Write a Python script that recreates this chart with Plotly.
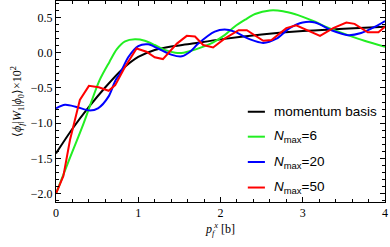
import plotly.graph_objects as go

# momentum basis
x_mom = [0, 0.2, 0.4, 0.6, 0.8, 1.0, 1.2, 1.4, 1.6, 2.0, 2.5, 3.0, 3.5, 4.0]
y_mom = [-1.43, -1.08, -0.77, -0.49, -0.24, -0.06, 0.04, 0.09, 0.12, 0.19, 0.26, 0.31, 0.34, 0.37]

# Nmax = 6
x_n6 = [0, 0.15, 0.33, 0.53, 0.65, 0.74, 0.84, 0.96, 1.08, 1.2, 1.32, 1.45, 1.55, 1.65, 1.8, 1.9,
        2.05, 2.17, 2.3, 2.42, 2.6, 2.76, 2.9, 3.0, 3.15, 3.3, 3.55, 3.75, 4.0]
y_n6 = [-2.0, -1.55, -1.02, -0.39, -0.13, 0.05, 0.16, 0.19, 0.17, 0.11, 0.04, 0.0, 0.0, 0.03, 0.09, 0.14,
        0.25, 0.37, 0.47, 0.55, 0.60, 0.59, 0.55, 0.51, 0.44, 0.36, 0.25, 0.17, 0.085]

# Nmax = 20
x_n20 = [0, 0.11, 0.25, 0.41, 0.51, 0.64, 0.72, 0.78, 0.88, 1.0, 1.12, 1.24, 1.41, 1.53, 1.63, 1.73,
         1.93, 2.05, 2.17, 2.36, 2.52, 2.68, 2.84, 3.0, 3.15, 3.35, 3.55, 3.71, 3.88, 4.0]
y_n20 = [-0.79, -0.74, -0.77, -0.82, -0.79, -0.62, -0.40, -0.29, -0.06, 0.095, 0.12, 0.06, -0.03, -0.05, 0.015, 0.13,
         0.30, 0.33, 0.30, 0.19, 0.14, 0.20, 0.35, 0.43, 0.43, 0.32, 0.25, 0.28, 0.37, 0.45]

# Nmax = 50
x_n50 = [0, 0.09, 0.17, 0.29, 0.40, 0.52, 0.64, 0.72, 0.84, 0.98, 1.10, 1.20, 1.30, 1.47, 1.59, 1.69, 1.79,
         1.91, 2.05, 2.22, 2.32, 2.42, 2.52, 2.62, 2.80, 2.92, 3.07, 3.21, 3.37, 3.53, 3.63, 3.79, 3.92, 4.0]
y_n50 = [-2.0, -1.75, -1.24, -0.67, -0.47, -0.49, -0.54, -0.46, -0.20, 0.06, 0.015, -0.065, -0.09, 0.13, 0.24, 0.23, 0.11,
         0.075, 0.20, 0.32, 0.32, 0.25, 0.17, 0.18, 0.35, 0.39, 0.31, 0.24, 0.35, 0.43, 0.41, 0.29, 0.29, 0.37]

legend_labels = ["momentum basis", "<i>N</i><sub>max</sub>=6", "<i>N</i><sub>max</sub>=20", "<i>N</i><sub>max</sub>=50"]
colors = ["#000000", "#22ee22", "#0000ff", "#ff0000"]

x_tickvals = [0, 1, 2, 3, 4]
x_ticktext = ["0", "1", "2", "3", "4"]
y_tickvals = [0.5, 0.0, -0.5, -1.0, -1.5, -2.0]
y_ticktext = ["0.5", "0.0", "\u22120.5", "\u22121.0", "\u22121.5", "\u22122.0"]

series = [(x_mom, y_mom, "spline"), (x_n6, y_n6, "spline"), (x_n20, y_n20, "spline"), (x_n50, y_n50, "linear")]

SERIF = "Liberation Serif"
SANS = "Liberation Sans"

fig = go.Figure()
for (xs, ys, shp), c, name in zip(series, colors, legend_labels):
    line = dict(color=c, width=2, shape=shp)
    if shp == "spline":
        line["smoothing"] = 0.8
    fig.add_trace(go.Scatter(x=xs, y=ys, mode="lines", name=name, line=line, showlegend=False))

# manual legend
leg_y = [0.449, 0.325, 0.199, 0.072]
for ly, c, name in zip(leg_y, colors, legend_labels):
    fig.add_shape(type="line", xref="paper", yref="paper", x0=0.583, x1=0.635, y0=ly, y1=ly,
                  line=dict(color=c, width=2))
    fig.add_annotation(xref="paper", yref="paper", x=0.658, y=ly, text=name, showarrow=False,
                       xanchor="left", yanchor="middle",
                       font=dict(family=SANS, size=13.5, color="black"))

axis_common = dict(showline=True, linecolor="black", linewidth=1, mirror="allticks",
                   ticks="inside", ticklen=5, tickwidth=1, tickcolor="black",
                   showgrid=False, zeroline=False,
                   tickfont=dict(family=SERIF, size=12, color="black"))

fig.update_xaxes(range=[0, 4], tickvals=x_tickvals, ticktext=x_ticktext,
                 minor=dict(dtick=0.2, ticks="inside", ticklen=3, tickcolor="black", tickwidth=1),
                 title=dict(text="<i>p</i><sub><i>f</i></sub><sup><i>x</i></sup> [b]",
                            font=dict(family=SERIF, size=12, color="black"),
                            standoff=5),
                 **axis_common)
fig.update_yaxes(range=[-2.12, 0.735], tickvals=y_tickvals, ticktext=y_ticktext,
                 minor=dict(dtick=0.1, tick0=0, ticks="inside", ticklen=3, tickcolor="black", tickwidth=1),
                 title=dict(text="\u27e8<i>\u03d5</i><sub><i>f</i></sub>|<i>W</i><sub>1</sub>|<i>\u03d5</i><sub>0</sub>\u27e9\u00d710<sup>2</sup>",
                            font=dict(family=SERIF, size=12, color="black"),
                            standoff=6),
                 **axis_common)

fig.update_layout(width=390, height=247, margin=dict(l=56, r=5, t=1, b=45),
                  paper_bgcolor="white", plot_bgcolor="white", showlegend=False,
                  font=dict(family=SERIF, color="black"))

fig.write_html("out.html", config={"displayModeBar": False, "staticPlot": True},
               post_script="document.body.style.margin='0';document.body.style.overflow='hidden';")
